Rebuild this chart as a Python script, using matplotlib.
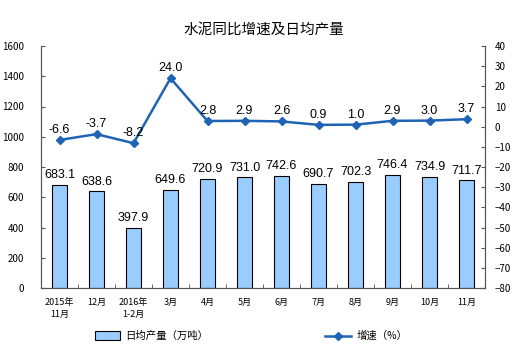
import matplotlib
matplotlib.use("Agg")
import matplotlib.pyplot as plt
from matplotlib.lines import Line2D
from matplotlib.patches import Patch
import numpy as np

plt.rcParams['font.family'] = ['Noto Sans CJK SC', 'DejaVu Sans']

categories = ["2015年\n11月", "12月", "2016年\n1-2月", "3月", "4月", "5月", "6月", "7月", "8月", "9月", "10月", "11月"]
output = [683.1, 638.6, 397.9, 649.6, 720.9, 731.0, 742.6, 690.7, 702.3, 746.4, 734.9, 711.7]
growth = [-6.6, -3.7, -8.2, 24.0, 2.8, 2.9, 2.6, 0.9, 1.0, 2.9, 3.0, 3.7]

bar_color = "#99CCFF"
line_color = "#1F64B4"
spine_color = "#555555"

fig = plt.figure(figsize=(5.27, 3.53), dpi=100)
ax = fig.add_axes([41/527, 1-288/353, (485-41)/527, (288-46)/353])
x = np.arange(len(categories))
ax.bar(x, output, width=0.43, color=bar_color, edgecolor="black", linewidth=0.8, zorder=2)
ax.set_ylim(0, 1600)
ax.set_yticks(np.arange(0, 1601, 200))
ax.set_xlim(-0.5, len(categories) - 0.5)
ax.set_xticks(x)
ax.set_xticklabels(categories, fontsize=6.5, linespacing=1.45)
ax.tick_params(axis='x', length=0, pad=7)
ax.set_xticks(np.arange(-0.5, len(categories), 1), minor=True)
ax.tick_params(axis='x', which='minor', length=3, direction='in', color=spine_color)
ax.tick_params(axis='y', labelsize=7, length=3, direction='in', color=spine_color, pad=12)
ax.spines['top'].set_visible(False)
for s in ['left', 'bottom', 'right']:
    ax.spines[s].set_color(spine_color)
for xi, v in zip(x, output):
    ax.text(xi, v + 25, f"{v:.1f}", ha='center', va='bottom', fontsize=9, family='Liberation Sans')

ax2 = ax.twinx()
ax2.plot(x, growth, color=line_color, linewidth=1.8, marker='D', markersize=4, zorder=3)
ax2.set_ylim(-80, 40)
ax2.set_yticks(np.arange(-80, 41, 10))
ax2.tick_params(axis='y', labelsize=7, length=3, direction='in', color=spine_color, pad=7)
ax2.spines['top'].set_visible(False)
for s in ['left', 'bottom', 'right']:
    ax2.spines[s].set_color(spine_color)
for xi, v in zip(x, growth):
    ax2.text(xi, v + 2, f"{v:.1f}", ha='center', va='bottom', fontsize=9, family='Liberation Sans')

fig.text(0.5, 1-30/353, "水泥同比增速及日均产量", ha='center', va='center', fontsize=10.5)

handles = [Patch(facecolor=bar_color, edgecolor='black', linewidth=0.8),
           Line2D([0], [0], color=line_color, linewidth=1.8, marker='D', markersize=4)]
fig.legend(handles[:1], ["日均产量（万吨）"], loc='center', bbox_to_anchor=(152/527, 1-336/353),
           frameon=False, fontsize=7.5, handlelength=2.4, handleheight=0.9, handletextpad=0.5)
fig.legend(handles[1:], ["增速（%）"], loc='center', bbox_to_anchor=(366/527, 1-336/353),
           frameon=False, fontsize=7.5, handlelength=2.5, handletextpad=0.5)

fig.savefig("out.png", dpi=100)
